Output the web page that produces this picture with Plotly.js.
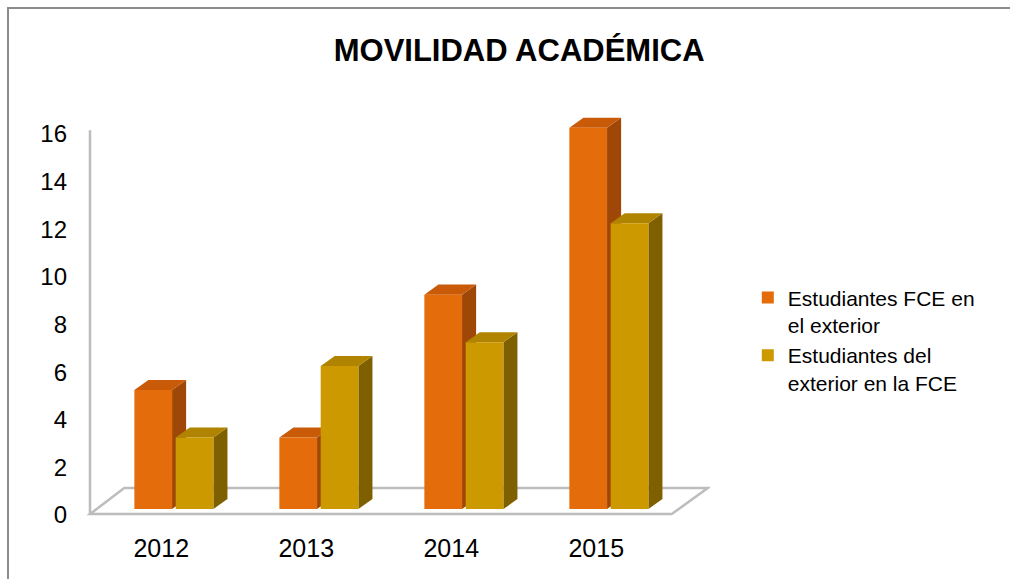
<!DOCTYPE html>
<html>
<head>
<meta charset="utf-8">
<script src="https://cdn.plot.ly/plotly-3.0.1.min.js"></script>
<style>html,body{margin:0;padding:0;background:#fff;}#chart{width:1010px;height:579px;}</style>
</head>
<body>
<div id="chart"></div>
<script>
// ---- data ----
const years = ['2012', '2013', '2014', '2015'];
const seriesNames = ['Estudiantes FCE en<br>el exterior', 'Estudiantes del<br>exterior en la FCE'];
const fceExterior = [5, 3, 9, 16];
const exteriorFce = [3, 6, 7, 12];
const yTicks = [0, 2, 4, 6, 8, 10, 12, 14, 16];

// ---- styles ----
const FONT = 'Liberation Sans, Arial, sans-serif';
const frontColors = ['#E46C0A', '#CC9900'];
const topColors = ['#C85A08', '#B08400'];
const sideColors = ['#9E4706', '#7F6000'];
const barWidth = 0.26;
const barOffsets = [-0.275, 0.01];
const depthX = 0.097, depthY = 0.42;

const xIdx = years.map((_, i) => i);
const values = [fceExterior, exteriorFce];

const traces = values.map((vals, s) => ({
  type: 'bar',
  x: xIdx,
  y: vals,
  width: barWidth,
  offset: barOffsets[s],
  name: seriesNames[s],
  legendgroup: 'g' + s,
  marker: {color: frontColors[s], line: {width: 0}},
  hoverinfo: 'y'
}));

const shapes = [];
// outer border
shapes.push({type: 'rect', xref: 'paper', yref: 'paper', x0: -0.1143, x1: 1.5, y0: -0.2, y1: 1.230,
  line: {color: '#8c8c8c', width: 2}, fillcolor: 'rgba(0,0,0,0)', layer: 'below'});
// floor and wall
const fl = {fx0: -0.581, fx1: 3.431, bx0: -0.345, bx1: 3.679, fy: -0.21, by: 0.88};
shapes.push({type: 'path', xref: 'x', yref: 'y', layer: 'below',
  path: `M${fl.fx0},${fl.fy} L${fl.fx1},${fl.fy} L${fl.bx1},${fl.by} L${fl.bx0},${fl.by} Z`,
  fillcolor: '#ffffff', line: {color: '#BDBDBD', width: 2.5}});
shapes.push({type: 'line', xref: 'x', yref: 'y', layer: 'below',
  x0: fl.fx0, x1: fl.fx0, y0: fl.fy, y1: 15.9, line: {color: '#BDBDBD', width: 2.5}});

// 3D faces derived from data
values.forEach((vals, s) => {
  vals.forEach((v, i) => {
    const x0 = xIdx[i] + barOffsets[s];
    const x1 = x0 + barWidth;
    shapes.push({type: 'path', xref: 'x', yref: 'y', layer: 'below',
      path: `M${x1},0 L${x1},${v} L${x1 + depthX},${v + depthY} L${x1 + depthX},${depthY} Z`,
      fillcolor: sideColors[s], line: {width: 0}});
    shapes.push({type: 'path', xref: 'x', yref: 'y', layer: 'below',
      path: `M${x0},${v} L${x1},${v} L${x1 + depthX},${v + depthY} L${x0 + depthX},${v + depthY} Z`,
      fillcolor: topColors[s], line: {width: 0}});
  });
});

const layout = {
  width: 1010, height: 579,
  margin: {l: 80, r: 300, t: 104, b: 58},
  paper_bgcolor: '#ffffff', plot_bgcolor: 'rgba(0,0,0,0)',
  font: {family: FONT, color: '#000000'},
  title: {text: '<b>MOVILIDAD ACADÉMICA</b>', font: {family: FONT, size: 31, color: '#000'},
    x: 0.514, xanchor: 'center', y: 0.914, yanchor: 'middle'},
  showlegend: true,
  legend: {x: 1.06, xanchor: 'left', y: 0.433, yanchor: 'middle', valign: 'top',
    font: {family: FONT, size: 21, color: '#000'}, bgcolor: 'rgba(0,0,0,0)',
    traceorder: 'normal', tracegroupgap: 5},
  barmode: 'overlay',
  xaxis: {type: 'linear', range: [-0.65, 3.695], tickvals: xIdx, ticktext: years,
    showgrid: false, zeroline: false, showline: false, ticks: '',
    tickfont: {family: FONT, size: 25, color: '#000'}, ticklabelshift: -13, ticklabelstandoff: 10,
    fixedrange: true},
  yaxis: {range: [-0.5, 17], tickvals: yTicks, showgrid: false, zeroline: false, showline: false,
    ticks: '', tickfont: {family: FONT, size: 24, color: '#000'}, ticklabelshift: 6,
    ticklabelstandoff: 12, fixedrange: true},
  shapes: shapes
};

Plotly.newPlot('chart', traces, layout, {displayModeBar: false, staticPlot: true});
</script>
</body>
</html>
